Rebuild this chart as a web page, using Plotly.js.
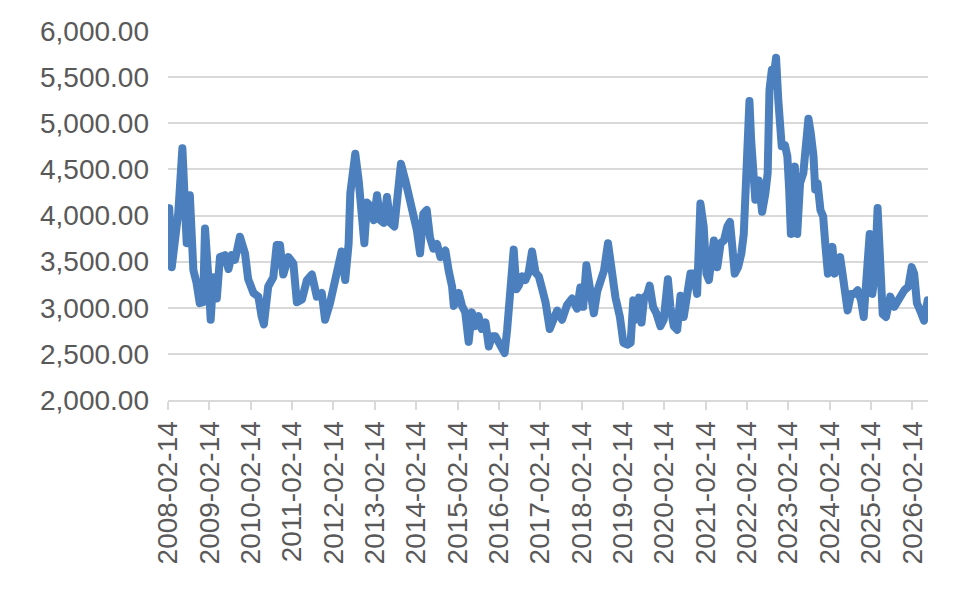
<!DOCTYPE html>
<html>
<head>
<meta charset="utf-8">
<script src="https://cdn.plot.ly/plotly-3.0.1.min.js"></script>
<style>
  html, body { margin: 0; padding: 0; background: #fff; }
  #chart { width: 980px; height: 594px; }
  #chart .js-line { stroke-linejoin: round !important; stroke-linecap: round !important; }
</style>
</head>
<body>
<div id="chart"></div>
<script>
// valores (aprox.)
const fechas = [
  '2008-02-14', '2008-02-25', '2008-03-18', '2008-04-15', '2008-05-15', '2008-06-20', '2008-07-28', '2008-08-25',
  '2008-09-25', '2008-10-23', '2008-11-20', '2008-12-20', '2009-01-06', '2009-02-06', '2009-02-25', '2009-03-20',
  '2009-04-20', '2009-05-18', '2009-07-01', '2009-08-01', '2009-08-30', '2009-09-28', '2009-11-10', '2009-12-25',
  '2010-01-22', '2010-03-10', '2010-04-22', '2010-05-22', '2010-06-10', '2010-07-18', '2010-09-01', '2010-10-01',
  '2010-10-30', '2010-11-28', '2011-01-12', '2011-02-25', '2011-03-10', '2011-03-28', '2011-05-12', '2011-06-25',
  '2011-08-08', '2011-09-20', '2011-11-03', '2011-12-02', '2012-01-15', '2012-02-28', '2012-03-28', '2012-04-26',
  '2012-05-28', '2012-06-27', '2012-07-12', '2012-08-25', '2012-09-24', '2012-10-23', '2012-11-13', '2012-12-07',
  '2013-01-05', '2013-02-04', '2013-03-05', '2013-04-03', '2013-05-03', '2013-06-01', '2013-07-01', '2013-08-05',
  '2013-08-29', '2013-10-02', '2013-11-10', '2013-12-25', '2014-01-22', '2014-02-20', '2014-03-20', '2014-04-18',
  '2014-05-18', '2014-06-16', '2014-07-16', '2014-08-17', '2014-09-16', '2014-10-30', '2014-11-28', '2014-12-28',
  '2015-01-12', '2015-02-25', '2015-03-26', '2015-04-23', '2015-05-23', '2015-06-21', '2015-07-20', '2015-08-18',
  '2015-09-16', '2015-10-19', '2015-11-17', '2015-12-16', '2016-01-15', '2016-02-14', '2016-03-14', '2016-04-05',
  '2016-04-27', '2016-05-20', '2016-06-10', '2016-06-24', '2016-07-18', '2016-08-08', '2016-09-06', '2016-10-05',
  '2016-11-03', '2016-12-03', '2017-01-03', '2017-02-01', '2017-03-03', '2017-04-01', '2017-05-08', '2017-06-13',
  '2017-07-13', '2017-08-25', '2017-10-08', '2017-11-22', '2018-01-05', '2018-02-03', '2018-02-28', '2018-03-28',
  '2018-04-27', '2018-06-02', '2018-07-02', '2018-08-01', '2018-08-30', '2018-10-05', '2018-11-10', '2018-12-10',
  '2019-01-18', '2019-02-18', '2019-03-25', '2019-04-23', '2019-05-16', '2019-06-06', '2019-07-06', '2019-07-28',
  '2019-08-20', '2019-09-18', '2019-10-08', '2019-11-07', '2019-12-06', '2020-01-11', '2020-02-09', '2020-03-17',
  '2020-04-08', '2020-05-08', '2020-06-07', '2020-07-06', '2020-08-04', '2020-09-03', '2020-10-02', '2020-11-01',
  '2020-11-30', '2020-12-29', '2021-01-27', '2021-02-20', '2021-03-14', '2021-04-27', '2021-05-27', '2021-06-26',
  '2021-07-25', '2021-08-24', '2021-09-16', '2021-10-07', '2021-10-28', '2021-11-27', '2021-12-26', '2022-01-16',
  '2022-01-31', '2022-02-15', '2022-03-07', '2022-03-22', '2022-04-08', '2022-04-28', '2022-05-28', '2022-06-27',
  '2022-07-26', '2022-08-15', '2022-08-31', '2022-09-21', '2022-10-11', '2022-10-28', '2022-11-17', '2022-12-02',
  '2022-12-17', '2023-01-15', '2023-02-05', '2023-02-21', '2023-03-08', '2023-03-28', '2023-04-12', '2023-05-03',
  '2023-05-28', '2023-06-26', '2023-07-20', '2023-08-10', '2023-08-31', '2023-09-24', '2023-10-09', '2023-10-30',
  '2023-11-24', '2023-12-18', '2024-01-08', '2024-01-29', '2024-02-23', '2024-03-09', '2024-03-29', '2024-04-23',
  '2024-05-16', '2024-06-06', '2024-06-27', '2024-07-21', '2024-08-20', '2024-09-18', '2024-10-18', '2024-11-17',
  '2024-12-10', '2025-01-09', '2025-02-01', '2025-02-24', '2025-03-19', '2025-04-12', '2025-05-06', '2025-05-27',
  '2025-06-25', '2025-08-02', '2025-09-06', '2025-10-20', '2025-12-04', '2026-01-09', '2026-02-07', '2026-03-01',
  '2026-03-25', '2026-04-23', '2026-05-27', '2026-06-28'
];
const valores = [
  3900, 4080, 3440, 3730, 4030, 4730, 3700, 4220,
  3410, 3270, 3050, 3060, 3860, 3300, 2870, 3330,
  3100, 3550, 3570, 3420, 3570, 3520, 3770, 3590,
  3310, 3160, 3120, 2900, 2820, 3230, 3330, 3680,
  3680, 3360, 3550, 3480, 3260, 3060, 3090, 3300,
  3360, 3120, 3160, 2870, 3050, 3300, 3540, 3610,
  3300, 3690, 4240, 4670, 4380, 4020, 3700, 4140,
  4100, 3950, 4220, 3950, 3920, 4200, 3920, 3880,
  4280, 4560, 4380, 4160, 3990, 3840, 3590, 4020,
  4060, 3760, 3640, 3690, 3550, 3620, 3400, 3230,
  3020, 3160, 3020, 2950, 2630, 2950, 2800, 2910,
  2770, 2840, 2580, 2690, 2690, 2620, 2560, 2510,
  2760, 3200, 3600, 3630, 3200, 3240, 3340, 3300,
  3380, 3610, 3380, 3340, 3200, 3060, 2770, 2905,
  2970, 2870, 3030, 3100, 2990, 3220, 3010, 3460,
  3180, 2940, 3180, 3290, 3400, 3700, 3360, 3110,
  2900, 2620, 2600, 2620, 3080, 2870, 3110, 2840,
  3110, 3150, 3240, 3010, 2940, 2800, 2870, 3310,
  3010, 2800, 2760, 3130, 2900, 3150, 3370, 3370,
  3150, 4130, 3880, 3370, 3300, 3730, 3440, 3700,
  3730, 3880, 3930, 3660, 3370, 3440, 3590, 3800,
  4350, 4820, 5240, 4820, 4460, 4170, 4380, 4040,
  4240, 4460, 5360, 5580, 5540, 5710, 5250, 4960,
  4750, 4760, 4640, 4280, 3800, 4350, 4530, 3800,
  4350, 4460, 4820, 5050, 4890, 4640, 4280, 4350,
  4060, 3990, 3660, 3370, 3550, 3660, 3370, 3440,
  3550, 3370, 3190, 2970, 3150, 3150, 3190, 3080,
  2900, 3370, 3800, 3150, 3370, 4080, 3190, 2930,
  2900, 3120, 3010, 3120, 3190, 3230, 3440, 3370,
  3050, 2970, 2860, 3080
];
const ticksFecha = [
  '2008-02-14', '2009-02-14', '2010-02-14', '2011-02-14', '2012-02-14', '2013-02-14',
  '2014-02-14', '2015-02-14', '2016-02-14', '2017-02-14', '2018-02-14', '2019-02-14',
  '2020-02-14', '2021-02-14', '2022-02-14', '2023-02-14', '2024-02-14', '2025-02-14',
  '2026-02-14'
];

const fuente = { family: 'Liberation Sans, Arial, sans-serif', size: 28, color: '#595959' };

Plotly.newPlot('chart', [{
  x: fechas, y: valores, type: 'scatter', mode: 'lines',
  line: { color: '#4b7fbe', width: 8 }
}], {
  width: 980, height: 594,
  margin: { t: 31, b: 194, l: 168, r: 52 },
  paper_bgcolor: '#fff', plot_bgcolor: '#fff',
  showlegend: false,
  font: fuente,
  xaxis: {
    type: 'date', range: ['2008-02-14', '2026-07-01'],
    tickmode: 'array', tickvals: ticksFecha, ticktext: ticksFecha,
    tickangle: -90, ticks: 'outside', ticklen: 8, tickwidth: 2, tickcolor: '#d9d9d9',
    showline: true, linecolor: '#d9d9d9', linewidth: 2,
    showgrid: false, zeroline: false, tickfont: fuente
  },
  yaxis: {
    range: [2000, 6000], dtick: 500, tick0: 2000, tickformat: ',.2f',
    gridcolor: '#d9d9d9', gridwidth: 2, zeroline: false, showline: false,
    ticks: '', ticklabelstandoff: 18, tickfont: fuente
  }
}, { displayModeBar: false, staticPlot: true });
</script>
</body>
</html>
